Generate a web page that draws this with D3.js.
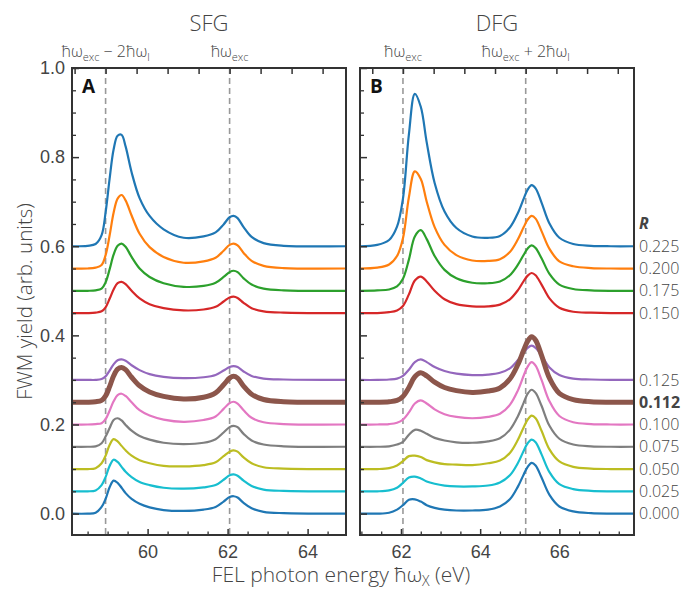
<!DOCTYPE html>
<html>
<head>
<meta charset="utf-8">
<script src="https://cdn.jsdelivr.net/npm/d3@7"></script>
<style>
  body { margin: 0; background: #fff; }
  svg { display: block; font-family: "Open Sans", "Noto Sans", sans-serif; }
</style>
</head>
<body>
<svg id="svg" width="685" height="592"></svg>
<script>
(function () {
    'use strict';

    // photon energy grids (eV)
    var energySFG = [58.1, 58.5, 58.7, 58.85, 58.95, 59.05, 59.15, 59.25, 59.35, 59.45, 59.6, 59.8, 60.05, 60.4,
        60.9, 61.4, 61.7, 61.9, 62.05, 62.15, 62.25, 62.4, 62.6, 62.9, 63.4, 64.95];
    var energyDFG = [60.95, 61.4, 61.7, 61.9, 62.05, 62.2, 62.35, 62.5, 62.65, 62.85, 63.1, 63.4, 63.8, 64.2,
        64.5, 64.75, 64.95, 65.1, 65.2, 65.3, 65.4, 65.55, 65.75, 66.0, 66.35, 66.8, 67.3, 67.9];

    var rLabels = ['0.225', '0.200', '0.175', '0.150', '0.125', '0.112', '0.100', '0.075', '0.050', '0.025', '0.000'];
    var colors = ['#1f77b4', '#ff7f0e', '#2ca02c', '#d62728', '#9467bd', '#8c564b', '#e377c2', '#7f7f7f', '#bcbd22', '#17becf', '#1f77b4'];

    // SFG yield (offset curves), one row per R
    var sfgYield = [
        [0.600, 0.601, 0.605, 0.625, 0.676, 0.751, 0.817, 0.848, 0.850, 0.824, 0.766, 0.708, 0.668, 0.638, 0.619, 0.622, 0.631, 0.649, 0.665, 0.668, 0.663, 0.643, 0.621, 0.607, 0.601, 0.600],
        [0.550, 0.550, 0.552, 0.558, 0.580, 0.624, 0.675, 0.707, 0.715, 0.703, 0.669, 0.628, 0.598, 0.576, 0.563, 0.566, 0.574, 0.590, 0.603, 0.606, 0.602, 0.585, 0.567, 0.556, 0.551, 0.550],
        [0.500, 0.500, 0.501, 0.505, 0.519, 0.548, 0.581, 0.601, 0.606, 0.599, 0.576, 0.550, 0.531, 0.517, 0.509, 0.511, 0.518, 0.531, 0.542, 0.545, 0.542, 0.528, 0.514, 0.505, 0.501, 0.500],
        [0.450, 0.450, 0.451, 0.454, 0.463, 0.482, 0.503, 0.517, 0.520, 0.515, 0.500, 0.483, 0.470, 0.461, 0.456, 0.458, 0.464, 0.476, 0.485, 0.487, 0.484, 0.473, 0.461, 0.454, 0.451, 0.450],
        [0.300, 0.300, 0.300, 0.302, 0.308, 0.321, 0.335, 0.344, 0.346, 0.343, 0.333, 0.322, 0.313, 0.307, 0.304, 0.306, 0.311, 0.321, 0.329, 0.331, 0.329, 0.319, 0.309, 0.303, 0.301, 0.300],
        [0.250, 0.250, 0.251, 0.254, 0.264, 0.285, 0.309, 0.324, 0.328, 0.323, 0.306, 0.287, 0.273, 0.263, 0.257, 0.261, 0.271, 0.289, 0.304, 0.308, 0.304, 0.286, 0.268, 0.256, 0.251, 0.250],
        [0.200, 0.200, 0.201, 0.203, 0.212, 0.231, 0.252, 0.266, 0.269, 0.264, 0.250, 0.232, 0.220, 0.211, 0.206, 0.210, 0.218, 0.235, 0.248, 0.251, 0.247, 0.232, 0.215, 0.205, 0.201, 0.200],
        [0.150, 0.150, 0.151, 0.158, 0.173, 0.192, 0.210, 0.214, 0.209, 0.199, 0.186, 0.174, 0.166, 0.159, 0.156, 0.159, 0.167, 0.182, 0.194, 0.197, 0.194, 0.179, 0.164, 0.155, 0.151, 0.150],
        [0.100, 0.100, 0.102, 0.113, 0.130, 0.154, 0.167, 0.162, 0.152, 0.142, 0.130, 0.120, 0.113, 0.107, 0.106, 0.109, 0.115, 0.129, 0.139, 0.142, 0.139, 0.126, 0.113, 0.104, 0.101, 0.100],
        [0.050, 0.050, 0.052, 0.064, 0.082, 0.107, 0.121, 0.116, 0.105, 0.094, 0.082, 0.071, 0.064, 0.058, 0.056, 0.059, 0.064, 0.076, 0.086, 0.088, 0.085, 0.074, 0.062, 0.054, 0.051, 0.050],
        [0.000, 0.000, 0.002, 0.015, 0.033, 0.059, 0.074, 0.069, 0.058, 0.046, 0.033, 0.022, 0.014, 0.008, 0.006, 0.009, 0.015, 0.027, 0.037, 0.039, 0.036, 0.024, 0.012, 0.004, 0.001, 0.000]
    ];

    // DFG yield (offset curves), one row per R
    var dfgYield = [
        [0.600, 0.603, 0.614, 0.644, 0.707, 0.851, 0.942, 0.913, 0.833, 0.742, 0.678, 0.641, 0.622, 0.619, 0.623, 0.642, 0.674, 0.707, 0.727, 0.737, 0.730, 0.698, 0.651, 0.619, 0.605, 0.601, 0.600, 0.600],
        [0.550, 0.552, 0.559, 0.578, 0.618, 0.710, 0.768, 0.751, 0.700, 0.643, 0.603, 0.580, 0.568, 0.567, 0.571, 0.587, 0.615, 0.643, 0.660, 0.668, 0.662, 0.634, 0.594, 0.566, 0.555, 0.551, 0.550, 0.550],
        [0.500, 0.501, 0.503, 0.510, 0.527, 0.570, 0.622, 0.636, 0.616, 0.578, 0.547, 0.528, 0.518, 0.517, 0.521, 0.535, 0.558, 0.581, 0.595, 0.602, 0.596, 0.573, 0.538, 0.514, 0.504, 0.501, 0.500, 0.500],
        [0.450, 0.450, 0.452, 0.456, 0.466, 0.492, 0.523, 0.532, 0.521, 0.500, 0.481, 0.470, 0.465, 0.465, 0.469, 0.481, 0.501, 0.522, 0.534, 0.540, 0.535, 0.514, 0.483, 0.462, 0.453, 0.451, 0.450, 0.450],
        [0.300, 0.300, 0.301, 0.303, 0.309, 0.323, 0.340, 0.346, 0.340, 0.329, 0.320, 0.314, 0.311, 0.312, 0.316, 0.326, 0.344, 0.361, 0.372, 0.377, 0.372, 0.355, 0.328, 0.311, 0.303, 0.301, 0.300, 0.300],
        [0.250, 0.250, 0.251, 0.254, 0.263, 0.283, 0.307, 0.316, 0.309, 0.295, 0.283, 0.276, 0.272, 0.275, 0.282, 0.302, 0.334, 0.367, 0.387, 0.397, 0.389, 0.355, 0.304, 0.270, 0.256, 0.251, 0.250, 0.250],
        [0.200, 0.200, 0.201, 0.204, 0.211, 0.227, 0.247, 0.254, 0.247, 0.234, 0.223, 0.217, 0.214, 0.217, 0.224, 0.244, 0.276, 0.310, 0.330, 0.340, 0.332, 0.300, 0.252, 0.219, 0.205, 0.201, 0.200, 0.200],
        [0.150, 0.150, 0.151, 0.155, 0.161, 0.177, 0.188, 0.186, 0.179, 0.170, 0.164, 0.160, 0.159, 0.162, 0.169, 0.188, 0.218, 0.249, 0.269, 0.278, 0.271, 0.242, 0.197, 0.168, 0.155, 0.151, 0.150, 0.150],
        [0.100, 0.100, 0.102, 0.108, 0.118, 0.129, 0.130, 0.127, 0.120, 0.115, 0.111, 0.110, 0.109, 0.113, 0.119, 0.136, 0.165, 0.194, 0.211, 0.220, 0.214, 0.186, 0.144, 0.117, 0.105, 0.101, 0.100, 0.100],
        [0.050, 0.050, 0.052, 0.058, 0.069, 0.081, 0.083, 0.079, 0.072, 0.067, 0.063, 0.061, 0.061, 0.063, 0.070, 0.086, 0.113, 0.141, 0.158, 0.166, 0.160, 0.133, 0.093, 0.066, 0.055, 0.051, 0.050, 0.050],
        [0.000, 0.000, 0.002, 0.009, 0.019, 0.031, 0.032, 0.027, 0.019, 0.013, 0.009, 0.007, 0.007, 0.009, 0.016, 0.032, 0.060, 0.088, 0.105, 0.114, 0.108, 0.081, 0.042, 0.016, 0.005, 0.001, 0.000, 0.000]
    ];

    var yMajorTicks = [0, 0.2, 0.4, 0.6, 0.8, 1.0];
    var sfgMajorTicks = [60, 62, 64];
    var dfgMajorTicks = [62, 64, 66];
    var hwExc = 62.05;   // excitation energy
    var hwL = 1.55;      // laser photon energy
    var boldR = '0.112';

    var svg = d3.select('#svg');
    var top = 68, bottom = 535;
    var ink = '#333', textInk = '#444';

    var y = d3.scaleLinear().domain([-0.048, 1.0]).range([bottom, top]);

    var panels = [
        { id: 'A', title: 'SFG', x: d3.scaleLinear().domain([58.11, 64.96]).range([72, 346]),
          energy: energySFG, yields: sfgYield, major: sfgMajorTicks, yLabels: true,
          marks: [{ e: hwExc - 2 * hwL, sub: 'exc', rest: ' \u2212 2\u0127\u03c9', sub2: 'l' },
                  { e: hwExc, sub: 'exc' }] },
        { id: 'B', title: 'DFG', x: d3.scaleLinear().domain([60.965, 67.885]).range([360, 634]),
          energy: energyDFG, yields: dfgYield, major: dfgMajorTicks, yLabels: false,
          marks: [{ e: hwExc, sub: 'exc' },
                  { e: hwExc + 2 * hwL, sub: 'exc', rest: ' + 2\u0127\u03c9', sub2: 'l' }] }
    ];

    function styleAxis(sel, width) {
        sel.select('.domain').remove();
        sel.selectAll('.tick line').attr('stroke', ink).attr('stroke-width', width);
        sel.selectAll('.tick text').attr('fill', textInk).attr('font-size', 18).attr('font-weight', 300);
    }

    panels.forEach(function (p) {
        var x = p.x;
        var x0 = x.range()[0], x1 = x.range()[1];
        var g = svg.append('g');

        g.append('clipPath').attr('id', 'clip' + p.id)
            .append('rect').attr('x', x0).attr('y', top).attr('width', x1 - x0).attr('height', bottom - top);

        // dashed guides
        p.marks.forEach(function (m) {
            g.append('line')
                .attr('x1', x(m.e)).attr('x2', x(m.e)).attr('y1', top).attr('y2', bottom)
                .attr('stroke', '#999').attr('stroke-width', 1.6).attr('stroke-dasharray', '6,4');

            var t = g.append('text')
                .attr('x', x(m.e)).attr('y', 57)
                .attr('text-anchor', 'middle').attr('fill', textInk)
                .attr('font-size', 16).attr('font-weight', 300);
            t.append('tspan').text('\u0127\u03c9');
            t.append('tspan').attr('font-size', 11).attr('dy', 4).text(m.sub);
            if (m.rest) {
                t.append('tspan').attr('dy', -4).text(m.rest);
                t.append('tspan').attr('font-size', 11).attr('dy', 4).text(m.sub2);
            }
        });

        // curves
        var line = d3.line()
            .x(function (d, i) { return x(p.energy[i]); })
            .y(function (d) { return y(d); })
            .curve(d3.curveCatmullRom.alpha(0.5));

        g.append('g').attr('clip-path', 'url(#clip' + p.id + ')')
            .selectAll('path')
            .data(p.yields)
            .enter()
            .append('path')
            .attr('d', line)
            .attr('fill', 'none')
            .attr('stroke', function (d, i) { return colors[i]; })
            .attr('stroke-width', function (d, i) { return rLabels[i] === boldR ? 5 : 2.2; })
            .attr('stroke-linejoin', 'round');

        // axes, ticks pointing in
        var minorX = d3.range(Math.ceil(x.domain()[0] * 2) / 2, x.domain()[1], 0.5)
            .filter(function (v) { return p.major.indexOf(v) < 0; });
        var topTicks = d3.range(-6, 8).map(function (k) { return hwExc + k * hwL / 2; })
            .filter(function (v) { return v > x.domain()[0] && v < x.domain()[1]; });
        var minorY = d3.range(-0.0, 1.0, 0.05).filter(function (v) {
            return Math.abs(v * 5 - Math.round(v * 5)) > 1e-6;
        });

        g.append('g').attr('transform', 'translate(0,' + bottom + ')')
            .call(d3.axisBottom(x).tickValues(p.major).tickSize(-6).tickPadding(10).tickFormat(d3.format('d')))
            .call(styleAxis, 1.5);
        g.append('g').attr('transform', 'translate(0,' + bottom + ')')
            .call(d3.axisBottom(x).tickValues(minorX).tickSize(-3.5).tickFormat(''))
            .call(styleAxis, 1.3);
        g.append('g').attr('transform', 'translate(0,' + top + ')')
            .call(d3.axisTop(x).tickValues(topTicks).tickSize(-6).tickFormat(''))
            .call(styleAxis, 1.5);
        g.append('g').attr('transform', 'translate(' + x0 + ',0)')
            .call(d3.axisLeft(y).tickValues(yMajorTicks).tickSize(-7).tickPadding(7)
                .tickFormat(p.yLabels ? d3.format('.1f') : ''))
            .call(styleAxis, 1.5);
        g.append('g').attr('transform', 'translate(' + x0 + ',0)')
            .call(d3.axisLeft(y).tickValues(minorY).tickSize(-4).tickFormat(''))
            .call(styleAxis, 1.3);

        // frame
        g.append('rect')
            .attr('x', x0).attr('y', top).attr('width', x1 - x0).attr('height', bottom - top)
            .attr('fill', 'none').attr('stroke', ink).attr('stroke-width', 2);

        g.append('text')
            .attr('x', (x0 + x1) / 2).attr('y', 31)
            .attr('text-anchor', 'middle').attr('fill', textInk)
            .attr('font-size', 22).attr('font-weight', 300)
            .text(p.title);

        g.append('text')
            .attr('x', x0 + 10).attr('y', 93)
            .attr('fill', '#111').attr('font-size', 19).attr('font-weight', 'bold')
            .text(p.id);
    });

    // R legend at the right edge, next to each DFG baseline
    var xR = panels[1].x.range()[1] + 5;
    svg.append('text')
        .attr('x', xR).attr('y', y(0.6) - 17)
        .attr('fill', textInk).attr('font-size', 16).attr('font-weight', 'bold').attr('font-style', 'italic')
        .text('R');
    svg.append('g').selectAll('text')
        .data(rLabels)
        .enter()
        .append('text')
        .attr('x', xR)
        .attr('y', function (d, i) { return y(dfgYield[i][dfgYield[i].length - 1]); })
        .attr('dy', '0.35em')
        .attr('fill', textInk)
        .attr('font-size', 16)
        .attr('font-weight', function (d) { return d === boldR ? 'bold' : 300; })
        .text(function (d) { return d; });

    // axis titles
    svg.append('text')
        .attr('transform', 'translate(25,' + ((top + bottom) / 2) + ') rotate(-90)')
        .attr('text-anchor', 'middle').attr('dy', '0.35em')
        .attr('fill', textInk).attr('font-size', 20.5).attr('font-weight', 300)
        .text('FWM yield (arb. units)');

    var xt = svg.append('text')
        .attr('x', 341).attr('y', 582)
        .attr('text-anchor', 'middle')
        .attr('fill', textInk).attr('font-size', 21).attr('font-weight', 300);
    xt.append('tspan').text('FEL photon energy \u0127\u03c9');
    xt.append('tspan').attr('font-size', 14).attr('dy', 4).text('X');
    xt.append('tspan').attr('dy', -4).text(' (eV)');
})();
</script>
</body>
</html>
